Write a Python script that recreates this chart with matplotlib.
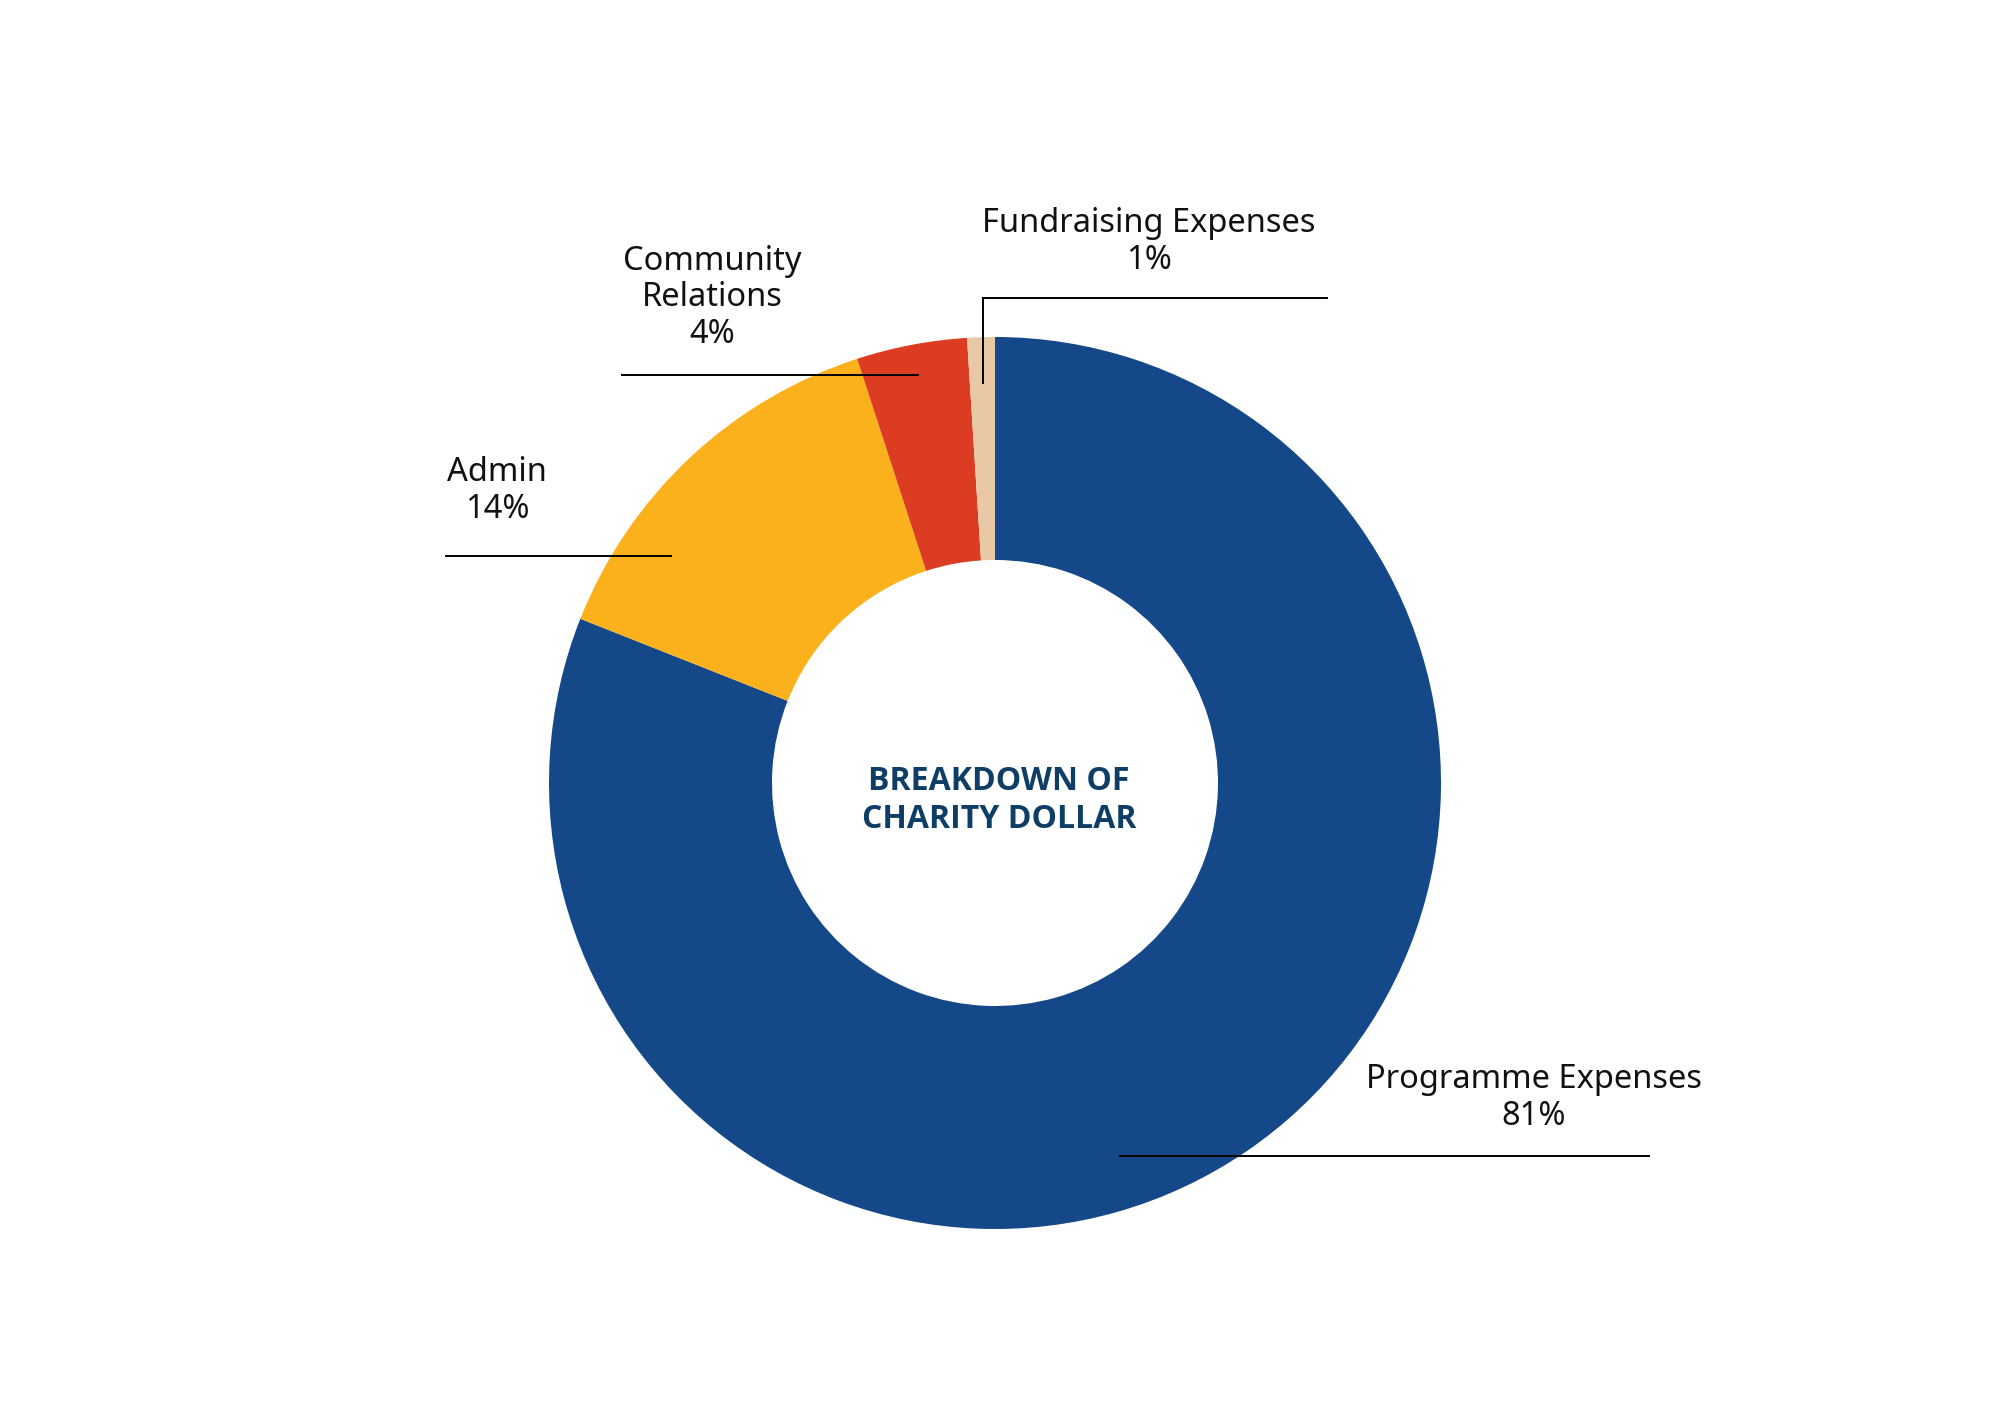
import matplotlib
matplotlib.use("Agg")
import matplotlib.pyplot as plt

# data
categories = ["Programme Expenses", "Admin", "Community\nRelations", "Fundraising Expenses"]
shares = [81, 14, 4, 1]
colors = ["#154889", "#fbb11b", "#dc3c22", "#e9c8a6"]

plt.rcParams["font.family"] = ["Noto Sans", "DejaVu Sans"]

fig = plt.figure(figsize=(20, 14.14), dpi=100)
ax = fig.add_axes([0, 0, 1, 1])

cx, cy = 995, 631
ax.pie(shares, colors=colors, startangle=90, counterclock=False,
       center=(cx, cy), radius=446, wedgeprops=dict(width=223, linewidth=0),
       frame=True)
ax.set_xlim(0, 2000)
ax.set_ylim(0, 1414)
ax.set_aspect("equal")
ax.axis("off")

ax.text(cx + 4, cy - 18, "BREAKDOWN OF\nCHARITY DOLLAR", ha="center", va="center",
        fontsize=23, fontweight="bold", family=["Open Sans", "DejaVu Sans"],
        color="#0e3d66", linespacing=1.2)

# label text positions (x, y of text centre) and leader lines
label_pos = [(1534, 316), (497, 923), (712, 1116), (1149, 1172)]
for name, pct, (tx, ty) in zip(categories, shares, label_pos):
    ax.text(tx, ty, f"{name}\n{pct}%", ha="center", va="center",
            fontsize=23.5, color="#111111", linespacing=1.15)

lw = 1.4
ax.plot([1120, 1649], [258, 258], color="black", lw=lw)
ax.plot([446, 671], [858, 858], color="black", lw=lw)
ax.plot([622, 918], [1039, 1039], color="black", lw=lw)
ax.plot([983, 1327], [1116, 1116], color="black", lw=lw)
ax.plot([983, 983], [1116, 1031], color="black", lw=lw)

fig.savefig("out.png", dpi=100, facecolor="white")
